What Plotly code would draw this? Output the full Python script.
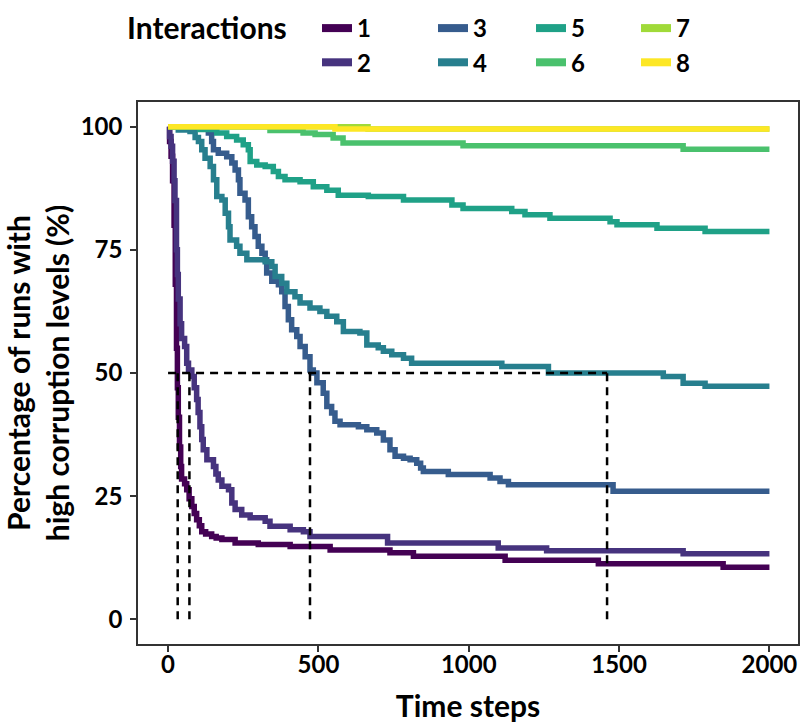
import plotly.graph_objects as go

# ---------------- data ----------------
series_names = ["1", "2", "3", "4", "5", "6", "7", "8"]
series_colors = ["#440154", "#46337e", "#365c8d", "#277f8e",
                 "#1fa187", "#4ac16d", "#a0da39", "#fde725"]

t1 = [0, 5, 10, 15, 20, 24, 28, 31, 34, 38, 42, 45, 55, 62, 70, 79, 87, 95, 104, 112,
      125, 145, 160, 179, 223, 300, 406, 539, 738, 816, 1121, 1431, 1846, 2000]
y1 = [100, 97, 94, 89, 80, 68, 55, 47, 41, 35, 31, 28.5, 27.5, 26.3, 24.5, 22.9, 21.5, 20.2, 19.0, 17.8,
      17.3, 16.8, 16.5, 16.2, 15.5, 15.2, 14.8, 14.1, 13.5, 12.8, 12.0, 11.3, 10.6, 10.6]

t2 = [0, 5, 10, 15, 20, 23, 28, 31, 34, 40, 45, 55, 62, 68, 79, 87, 95, 100, 106, 112,
      117, 129, 151, 159, 167, 179, 201, 212, 223, 245, 273, 323, 339, 406, 450, 472,
      730, 1098, 1259, 1713, 2000]
y2 = [100, 98, 96, 93, 89, 85, 75, 70, 65, 60, 57, 55.4, 52.0, 50.6, 49.3, 47.0, 44.6, 42.0, 39.1, 36.5,
      34.4, 32.4, 31.0, 29.5, 28.3, 27.0, 26.3, 23.6, 22.3, 21.2, 20.6, 19.9, 18.9, 18.2, 17.8, 16.8,
      15.5, 14.5, 13.9, 13.3, 13.3]

t3 = [0, 95, 134, 145, 151, 167, 195, 212, 223, 234, 239, 256, 267, 278, 289, 300, 312, 323,
      328, 345, 367, 378, 389, 400, 411, 428, 439, 456, 472, 483, 495, 516, 528, 544, 555,
      572, 633, 661, 694, 716, 738, 755, 783, 805, 827, 840, 849, 932, 1071, 1104, 1132,
      1480, 2000]
y3 = [100, 99.5, 98.7, 97.0, 95.3, 94.6, 93.9, 92.6, 91.2, 89.2, 86.5, 85.1, 81.7, 79.7, 77.7, 75.7, 74.3, 73.0,
      70.3, 68.6, 67.9, 66.5, 63.5, 60.8, 58.8, 57.4, 55.4, 53.3, 50.6, 50.0, 48.0, 45.9, 43.2, 41.9, 40.2,
      39.5, 39.1, 38.5, 37.8, 36.4, 34.4, 33.1, 32.7, 32.4, 31.7, 30.7, 30.0, 29.4, 28.7, 28.0, 27.3,
      26.0, 26.0]

t4 = [0, 34, 73, 90, 101, 112, 123, 140, 151, 162, 179, 190, 201, 206, 228, 239, 262, 323,
      345, 356, 378, 395, 422, 439, 472, 505, 528, 561, 583, 638, 661, 699, 716, 744, 783,
      810, 1110, 1265, 1647, 1713, 1786, 2000]
y4 = [100, 99.3, 99.0, 97.8, 97.0, 95.3, 93.6, 91.9, 89.2, 85.8, 85.1, 82.4, 79.7, 77.0, 75.7, 74.3, 73.0, 72.6,
      71.6, 69.6, 68.2, 66.5, 65.5, 64.2, 63.2, 62.5, 61.5, 60.4, 58.4, 58.1, 55.7, 55.1, 54.4, 53.7, 53.0,
      52.0, 51.3, 50.0, 49.3, 47.9, 47.3, 47.3]

t5 = [0, 106, 162, 195, 228, 250, 267, 273, 295, 323, 350, 367, 389, 439, 483, 528, 566, 666,
      783, 944, 981, 1143, 1187, 1270, 1470, 1493, 1626, 1786, 2000]
y5 = [100, 99.4, 98.7, 98.0, 97.3, 96.3, 95.3, 92.9, 92.2, 91.9, 90.9, 89.9, 89.2, 88.8, 87.8, 87.1, 86.1, 85.8,
      85.1, 84.1, 83.4, 82.8, 82.1, 81.4, 80.7, 80.1, 79.4, 78.7, 78.7]

t6 = [0, 339, 449, 489, 549, 582, 981, 1713, 2000]
y6 = [100, 99.2, 98.7, 98.4, 97.7, 96.7, 96.1, 95.4, 95.4]

t7 = [0, 665, 2000]
y7 = [100, 99.5, 99.5]

t8 = [0, 555, 2000]
y8 = [100, 99.5, 99.5]

threshold = 50
cross_times = [32, 71, 472, 1460]

x_ticks = [0, 500, 1000, 1500, 2000]
y_ticks = [0, 25, 50, 75, 100]

# ---------------- figure ----------------
FONT = "Lato"
series_t = [t1, t2, t3, t4, t5, t6, t7, t8]
series_y = [y1, y2, y3, y4, y5, y6, y7, y8]

fig = go.Figure()

for name, col, tt, yy in zip(series_names, series_colors, series_t, series_y):
    fig.add_trace(go.Scatter(x=tt, y=yy, mode="lines", name=name,
                             line=dict(color=col, width=5.5, shape="hv"),
                             showlegend=False, hoverinfo="x+y+name"))

# dashed guide lines
dash_style = dict(color="black", width=2.5, dash="8px,6px")
fig.add_trace(go.Scatter(x=[0, max(cross_times)], y=[threshold, threshold], mode="lines",
                         line=dash_style, showlegend=False, hoverinfo="skip"))
for ct in cross_times:
    fig.add_trace(go.Scatter(x=[ct, ct], y=[0, threshold], mode="lines",
                             line=dash_style, showlegend=False, hoverinfo="skip"))

# legend keys: 4 columns x 2 rows
legend_ids = ["legend", "legend2", "legend3", "legend4"]
for i, (name, col) in enumerate(zip(series_names, series_colors)):
    fig.add_trace(go.Scatter(x=[None], y=[None], mode="lines", name=name,
                             line=dict(color=col, width=8),
                             legend=legend_ids[i // 2], showlegend=True))

plot_l, plot_r, plot_t, plot_b = 138, 798, 102, 644
pw = plot_r - plot_l
ph = plot_b - plot_t
legend_x_px = [317, 433, 531, 636]
legend_common = dict(orientation="v", xanchor="left", yanchor="top",
                     y=1 + (plot_t - 6) / ph,
                     font=dict(family=FONT, size=24, color="black", weight="bold"),
                     bgcolor="rgba(0,0,0,0)", tracegroupgap=0, itemwidth=30,
                     itemclick=False, itemdoubleclick=False)
legs = {}
for lid, px in zip(legend_ids, legend_x_px):
    legs[lid] = dict(legend_common, x=(px - plot_l) / pw)

tick_font = dict(family=FONT, size=24, color="black", weight="bold")
title_font = dict(family=FONT, size=30, color="black", weight="bold")

fig.update_layout(
    width=800, height=723,
    margin=dict(l=plot_l, r=800 - plot_r, t=plot_t, b=723 - plot_b, autoexpand=False),
    paper_bgcolor="white", plot_bgcolor="white",
    font=dict(family=FONT, color="black"),
    **legs,
    xaxis=dict(range=[-100, 2095], tickvals=x_ticks, ticks="outside", ticklen=6,
               tickwidth=1.5, tickcolor="#333333", showline=True, mirror=True,
               linecolor="#333333", linewidth=1.5, showgrid=False, zeroline=False,
               tickfont=tick_font, ticklabelstandoff=-8,
               title=dict(text="Time steps", font=title_font, standoff=20)),
    yaxis=dict(range=[-5, 105], tickvals=y_ticks, ticks="outside", ticklen=6,
               tickwidth=1.5, tickcolor="#333333", showline=True, mirror=True,
               linecolor="#333333", linewidth=1.5, showgrid=False, zeroline=False,
               tickfont=tick_font, ticklabelstandoff=3,
               title=dict(text="Percentage of runs with<br>high corruption levels (%)",
                          font=title_font, standoff=13)),
    annotations=[dict(text="Interactions", xref="paper", yref="paper",
                      x=(125 - plot_l) / pw, xanchor="left",
                      y=1 + (plot_t - 27) / ph, yanchor="middle",
                      showarrow=False, font=title_font)],
)

fig.write_html("out.html", config={"displayModeBar": False},
               post_script="document.body.style.margin='0';document.body.style.overflow='hidden';")
